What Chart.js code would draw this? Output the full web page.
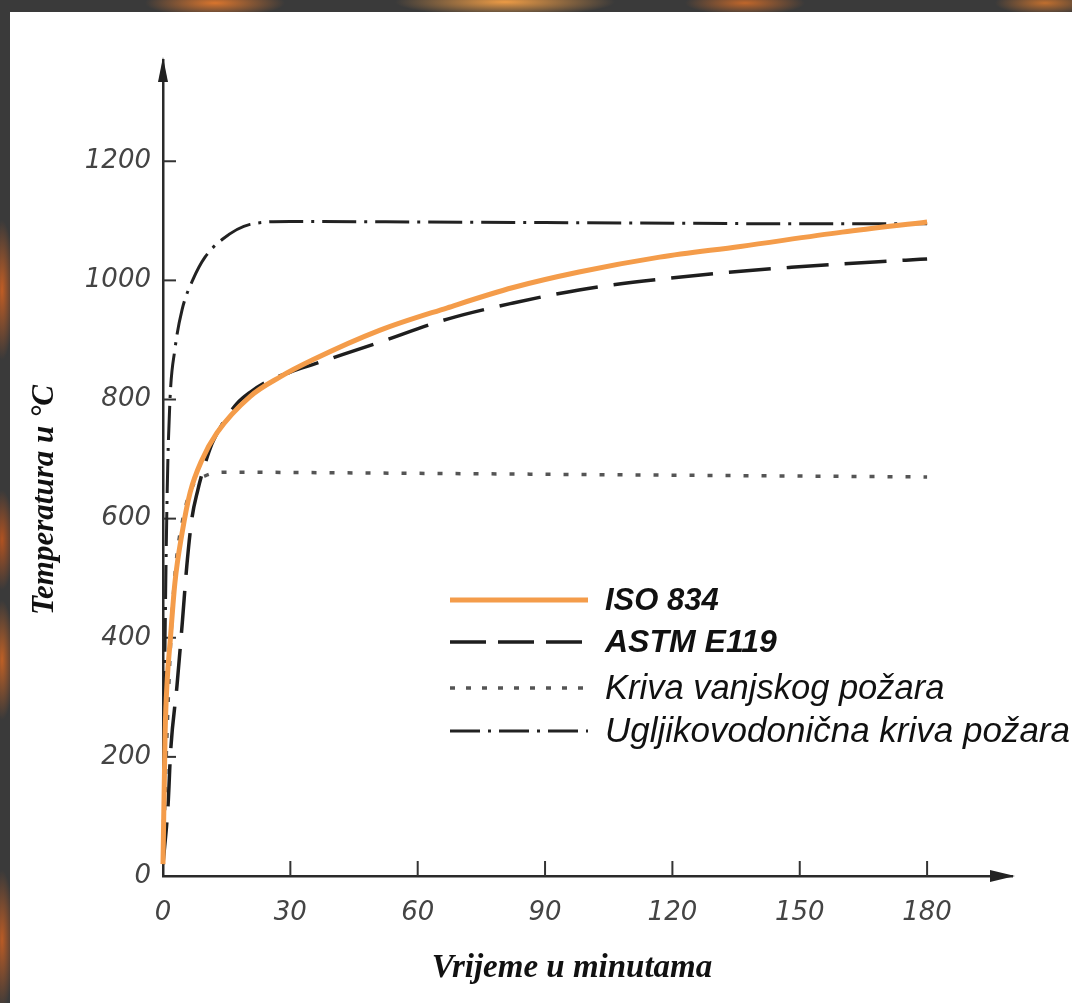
<!DOCTYPE html>
<html>
<head>
<meta charset="utf-8">
<script src="https://cdn.jsdelivr.net/npm/chart.js@4.4.1/dist/chart.umd.min.js"></script>
<style>
html,body{margin:0;padding:0;width:1072px;height:1003px;overflow:hidden;background:#3a3a3a;}
#frame{position:absolute;left:0;top:0;width:1072px;height:1003px;
background:
 radial-gradient(ellipse 70px 14px at 215px 3px, rgba(225,120,45,.95), rgba(225,120,45,0)),
 radial-gradient(ellipse 110px 14px at 505px 2px, rgba(245,160,70,.95), rgba(245,160,70,0)),
 radial-gradient(ellipse 60px 12px at 745px 3px, rgba(215,110,40,.85), rgba(215,110,40,0)),
 radial-gradient(ellipse 50px 12px at 1045px 3px, rgba(215,120,45,.85), rgba(215,120,45,0)),
 radial-gradient(ellipse 12px 70px at 2px 290px, rgba(200,95,35,.95), rgba(200,95,35,0)),
 radial-gradient(ellipse 12px 50px at 2px 540px, rgba(190,85,30,.9), rgba(190,85,30,0)),
 radial-gradient(ellipse 12px 60px at 2px 660px, rgba(205,100,35,.9), rgba(205,100,35,0)),
 radial-gradient(ellipse 12px 70px at 2px 940px, rgba(200,95,35,.9), rgba(200,95,35,0)),
 #3a3a3a;}
#panel{position:absolute;left:10px;top:12px;width:1062px;height:991px;background:#ffffff;}
canvas{position:absolute;left:0;top:0;}
</style>
</head>
<body>
<div id="frame"></div>
<div id="panel"></div>
<canvas id="c" width="1072" height="1003"></canvas>
<script>
// ---- data ----
const seriesNames = ['ISO 834', 'ASTM E119', 'Kriva vanjskog požara', 'Ugljikovodonična kriva požara'];

const isoTime = [0, 0.5, 1, 1.7, 2.8, 4.5, 6.4, 9.2, 12.7, 20.5, 27.6, 35.4, 51, 67, 82.5, 98, 117, 136, 160, 180];
const isoTemp = [20, 240, 330, 395, 492, 576, 644, 699, 744, 805, 838, 867, 916, 954, 988, 1014, 1039, 1057, 1081, 1098];

const astmTime = [0, 1.2, 1.8, 3.3, 4.6, 5.6, 6.8, 8.2, 9.4, 11.5, 13.9, 17.4, 20.5, 24.5, 30, 35.4, 51, 67, 82.5, 98, 117, 148, 175, 180];
const astmTemp = [20, 120, 210, 320, 430, 520, 600, 648, 680, 725, 758, 793, 812, 830, 846, 859, 896, 935, 962, 984, 1002, 1022, 1034, 1036];

const extTime = [0, 1, 2, 3, 5, 7, 10, 15, 40, 100, 180];
const extTemp = [20, 250, 420, 520, 610, 655, 672, 678, 677, 674, 670];

const hcTime = [0, 0.5, 1, 1.65, 2.8, 4.5, 7.1, 9.9, 14, 20.5, 30, 60, 90, 120, 150, 180];
const hcTemp = [20, 400, 650, 800, 884, 951, 1002, 1039, 1069, 1094, 1099, 1098, 1097, 1096, 1095, 1095];

const xTicks = [0, 30, 60, 90, 120, 150, 180];
const yTicks = [0, 200, 400, 600, 800, 1000, 1200];
const xTitle = 'Vrijeme u minutama';
const yTitle = 'Temperatura u °C';

const pts = (t, v) => t.map((x, i) => ({x: x, y: v[i]}));

// ---- decoration plugin: inside tick marks, arrows, titles, legend ----
const deco = {
  id: 'deco',
  beforeDatasetsDraw(chart) {
    const {ctx, scales: {x, y}} = chart;
    ctx.save();
    ctx.strokeStyle = '#333';
    ctx.lineWidth = 2;
    y.ticks.forEach(t => {
      if (t.value === 0) return;
      const py = y.getPixelForValue(t.value);
      ctx.beginPath(); ctx.moveTo(x.left, py); ctx.lineTo(x.left + 13, py); ctx.stroke();
    });
    x.ticks.forEach(t => {
      if (t.value === 0) return;
      const px = x.getPixelForValue(t.value);
      ctx.beginPath(); ctx.moveTo(px, y.bottom); ctx.lineTo(px, y.bottom - 15); ctx.stroke();
    });
    ctx.restore();
  },
  afterDraw(chart) {
    const {ctx, scales: {x, y}} = chart;
    ctx.save();
    // arrows
    ctx.fillStyle = '#222';
    ctx.beginPath();
    ctx.moveTo(x.left, y.top - 3);
    ctx.lineTo(x.left - 5, y.top + 22);
    ctx.lineTo(x.left + 5, y.top + 22);
    ctx.closePath(); ctx.fill();
    ctx.beginPath();
    ctx.moveTo(x.right + 3, y.bottom);
    ctx.lineTo(x.right - 22, y.bottom - 6);
    ctx.lineTo(x.right - 22, y.bottom + 6);
    ctx.closePath(); ctx.fill();

    // axis titles
    ctx.fillStyle = '#111';
    ctx.textAlign = 'center';
    ctx.textBaseline = 'middle';
    ctx.font = 'bold italic 33px "Liberation Serif"';
    ctx.fillText(xTitle, 572, 968);
    ctx.save();
    ctx.translate(45, 500);
    ctx.rotate(-Math.PI / 2);
    ctx.font = 'bold italic 31px "Liberation Serif"';
    ctx.fillText(yTitle, 0, 0);
    ctx.restore();

    // legend
    const rows = [600, 642, 688, 731];
    const fonts = ['bold italic 31px "Liberation Sans"', 'bold italic 32px "Liberation Sans"',
                   'italic 34.5px "Liberation Sans"', 'italic 35px "Liberation Sans"'];
    chart.data.datasets.forEach((ds, i) => {
      const ry = rows[i];
      ctx.save();
      ctx.strokeStyle = ds.borderColor;
      ctx.lineWidth = ds.borderWidth;
      ctx.setLineDash(ds.legendDash || ds.borderDash || []);
      ctx.lineCap = 'butt';
      ctx.beginPath(); ctx.moveTo(450, ry); ctx.lineTo(588, ry); ctx.stroke();
      ctx.restore();
      ctx.fillStyle = '#111';
      ctx.font = fonts[i];
      ctx.textAlign = 'left';
      ctx.textBaseline = 'middle';
      ctx.fillText(ds.label, 605, ry + 1);
    });
    ctx.restore();
  }
};

const tickFont = {family: 'DejaVu Sans', size: 26, style: 'italic'};

new Chart(document.getElementById('c'), {
  type: 'line',
  data: {
    datasets: [
      {label: seriesNames[0], data: pts(isoTime, isoTemp), borderColor: '#f49c4a', borderWidth: 5,
       pointRadius: 0, cubicInterpolationMode: 'monotone', clip: 8},
      {label: seriesNames[1], data: pts(astmTime, astmTemp), borderColor: '#1e1e1e', borderWidth: 3.5,
       borderDash: [42, 16], legendDash: [36, 12], pointRadius: 0, cubicInterpolationMode: 'monotone', clip: 8},
      {label: seriesNames[2], data: pts(extTime, extTemp), borderColor: '#555', borderWidth: 3.5,
       borderDash: [5, 13], legendDash: [5, 11], pointRadius: 0, cubicInterpolationMode: 'monotone', clip: 8},
      {label: seriesNames[3], data: pts(hcTime, hcTemp), borderColor: '#222', borderWidth: 3,
       borderDash: [34, 8, 3, 8], legendDash: [30, 8, 3, 8], pointRadius: 0, cubicInterpolationMode: 'monotone', clip: 8}
    ]
  },
  options: {
    responsive: false,
    animation: false,
    devicePixelRatio: 1,
    layout: {padding: {left: 20, top: 60, right: 60, bottom: 0}},
    plugins: {legend: {display: false}, tooltip: {enabled: false}},
    scales: {
      x: {
        type: 'linear', min: 0, max: 200,
        afterBuildTicks: s => { s.ticks = xTicks.map(v => ({value: v})); },
        afterFit: s => { s.height = 127; },
        grid: {display: false, drawTicks: false},
        border: {display: true, color: '#2a2a2a', width: 2.5},
        ticks: {font: tickFont, color: '#444', padding: 22, maxRotation: 0, callback: v => String(v)}
      },
      y: {
        type: 'linear', min: 0, max: 1370,
        afterBuildTicks: s => { s.ticks = yTicks.map(v => ({value: v})); },
        afterFit: s => { s.width = 143; },
        grid: {display: false, drawTicks: false},
        border: {display: true, color: '#2a2a2a', width: 2.5},
        ticks: {font: tickFont, color: '#444', padding: 12, callback: v => String(v)}
      }
    }
  },
  plugins: [deco]
});
</script>
</body>
</html>
